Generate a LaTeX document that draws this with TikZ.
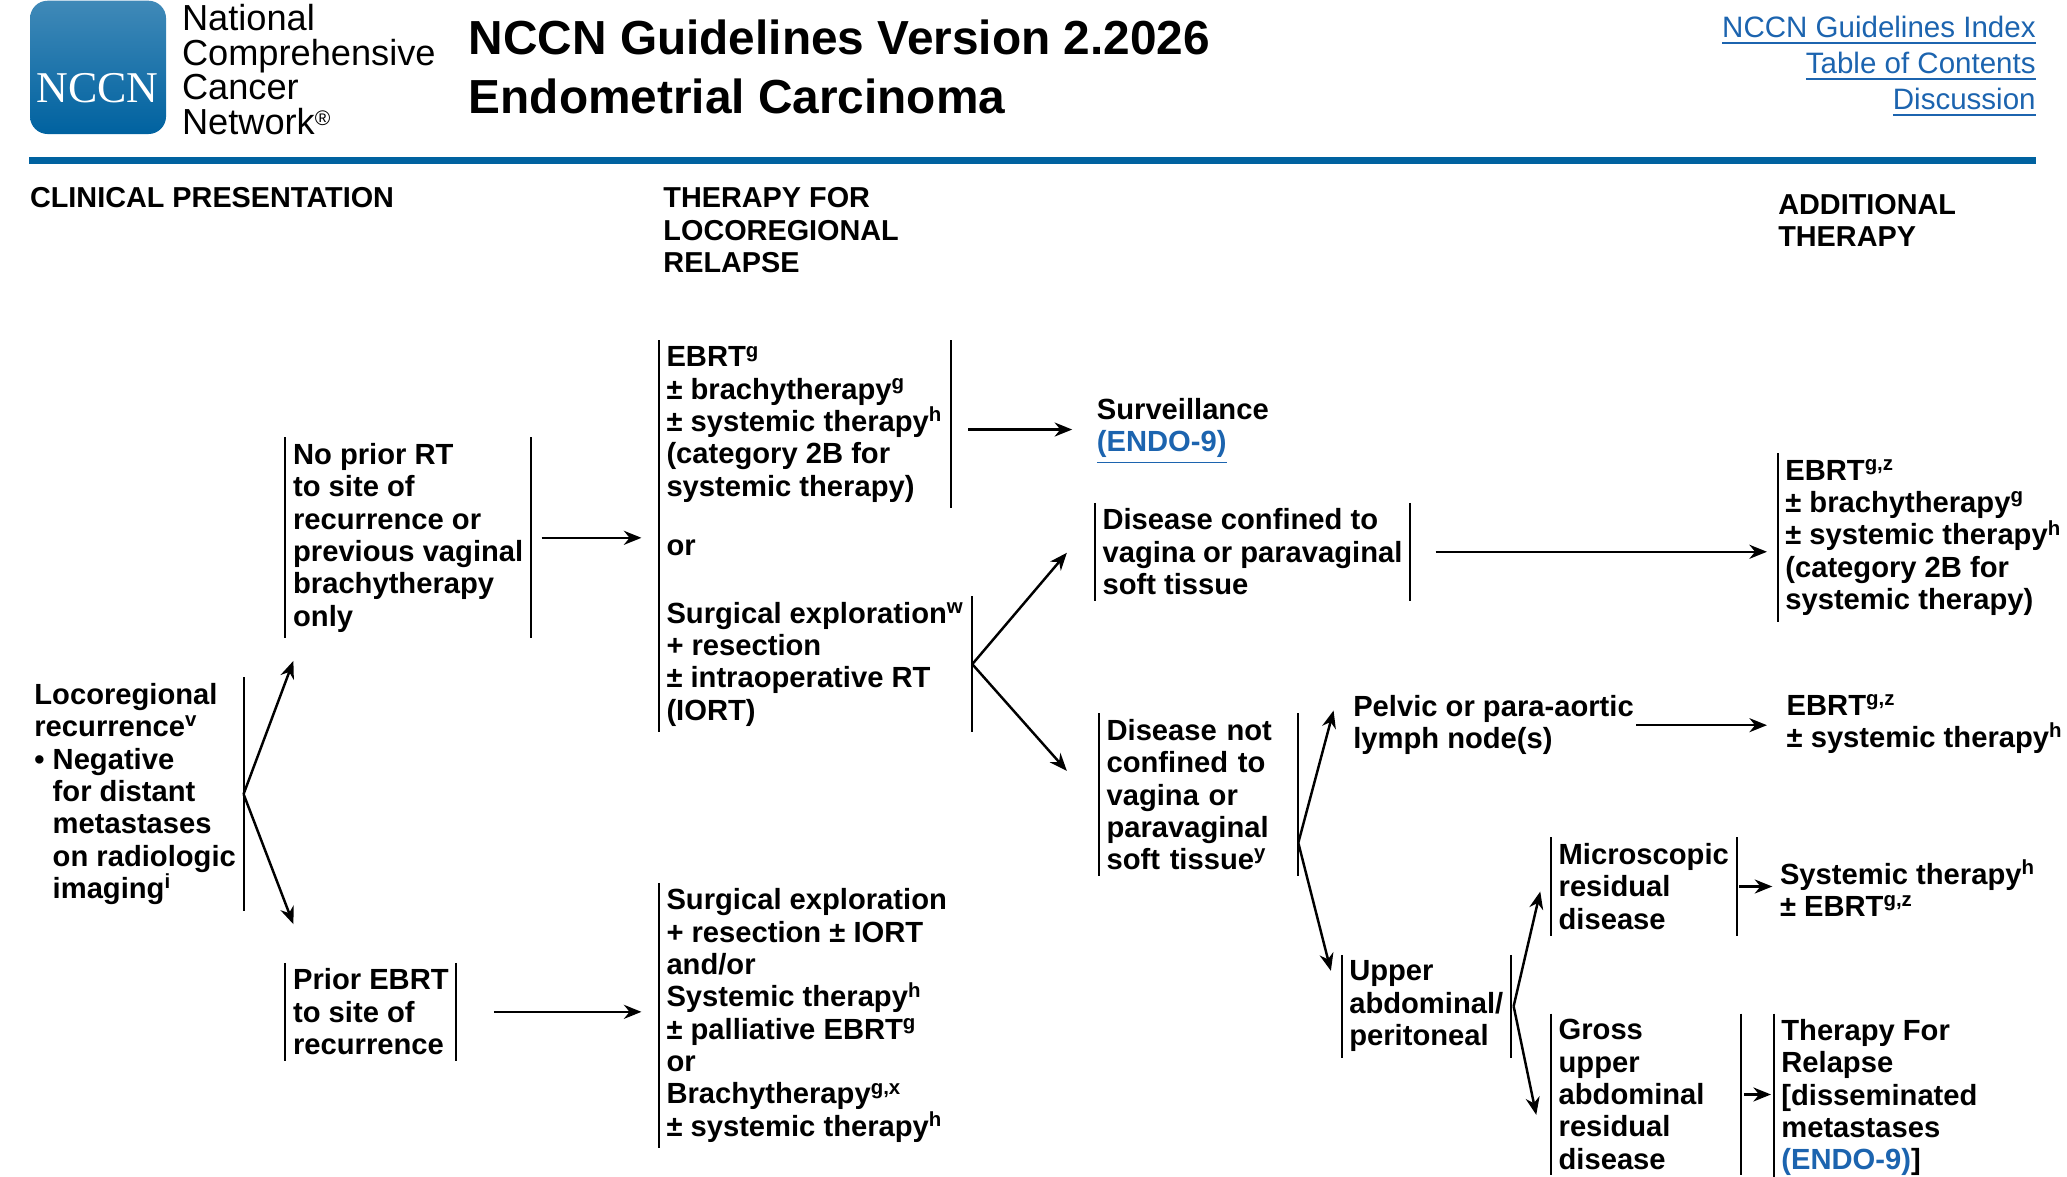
\documentclass[tikz,border=0pt]{standalone}
\usepackage{fontspec}
\setmainfont{Liberation Sans}
\newfontfamily\logofont{Liberation Serif}
\usetikzlibrary{arrows.meta}
\definecolor{nccnblue}{RGB}{0,98,160}
\definecolor{linkblue}{RGB}{28,100,175}
\newcommand{\sps}[1]{\textsuperscript{#1}}
\newcommand{\lnk}[1]{{\color{linkblue}\underline{#1}}}

\begin{document}
\begin{tikzpicture}[x=0.01333cm, y=-0.01333cm,
    body/.style={font=\fontsize{8.3}{9.2}\selectfont\bfseries, align=left, anchor=north west, inner xsep=2pt, inner ysep=1.5pt},
    head/.style={font=\fontsize{8.2}{9.3}\selectfont\bfseries, align=left, anchor=north west, inner sep=0pt},
    link/.style={font=\fontsize{8.4}{10}\selectfont, text=linkblue, anchor=east, inner sep=0pt},
    bar/.style={line width=0.6pt},
    arr/.style={-{Stealth[length=5pt,width=4pt]}, line width=0.7pt}]
    \useasboundingbox (0,0) rectangle (1550,882);

    % header
    \node[draw=none, rounded corners=5pt, top color=nccnblue!75, bottom color=nccnblue, minimum width=1.36cm, minimum height=1.333cm, anchor=north west, inner sep=0pt] (logo) at (22,0) {};
    \node[text=white, font=\logofont\fontsize{12.5}{12}\selectfont] (logotxt) at (73,66) {NCCN};
    \node[font=\fontsize{10.3}{9.8}\selectfont, align=left, anchor=north west, inner sep=0pt] (nccnname) at (136,3) {National\\Comprehensive\\Cancer\\Network{\fontsize{6}{6}\selectfont\raisebox{2.5pt}{\textregistered}}};
    \node[font=\fontsize{13.6}{16}\selectfont\bfseries, anchor=west, inner sep=0pt] (title1) at (351,28) {NCCN Guidelines Version 2.2026};
    \node[font=\fontsize{13.6}{16}\selectfont\bfseries, anchor=west, inner sep=0pt] (title2) at (351,72) {Endometrial Carcinoma};
    \node[link] (idx) at (1527,23) {\underline{NCCN Guidelines Index}};
    \node[link] (toc) at (1527,50) {\underline{Table of Contents}};
    \node[link] (disc) at (1527,77) {\underline{Discussion}};
    \draw[nccnblue, line width=2pt] (22,120) -- (1527,120);

    % column heads
    \node[head] (h1) at (22,140) {CLINICAL PRESENTATION};
    \node[head] (h2) at (497,140) {THERAPY FOR\\LOCOREGIONAL\\RELAPSE};
    \node[head] (h3) at (1333,145) {ADDITIONAL\\THERAPY};

    % presentation
    \node[body] (loco) at (20,508) {Locoregional\\recurrence\sps{v}\\\textbullet~Negative\\\phantom{\textbullet~}for distant\\\phantom{\textbullet~}metastases\\\phantom{\textbullet~}on radiologic\\\phantom{\textbullet~}imaging\sps{i}};
    \draw[bar] (loco.north east) -- (loco.south east);

    \node[body] (noprior) at (214,328) {No prior RT\\to site of\\recurrence or\\previous vaginal\\brachytherapy\\only};
    \draw[bar] (noprior.north west) -- (noprior.south west);
    \draw[bar] (noprior.north east) -- (noprior.south east);

    \node[body] (prior) at (214,722) {Prior EBRT\\to site of\\recurrence};
    \draw[bar] (prior.north west) -- (prior.south west);
    \draw[bar] (prior.north east) -- (prior.south east);

    % therapy for relapse
    \node[body] (ebrt) at (494,255) {EBRT\sps{g}\\± brachytherapy\sps{g}\\± systemic therapy\sps{h}\\(category 2B for\\systemic therapy)};
    \draw[bar] (ebrt.north east) -- (ebrt.south east);
    \node[body] (or) at (494,400) {or};
    \node[body] (surg) at (494,447) {Surgical exploration\sps{w}\\+ resection\\± intraoperative RT\\(IORT)};
    \draw[bar] (surg.north east) -- (surg.south east);
    \draw[bar] (ebrt.north west) -- (surg.south west);

    \node[body] (salvage) at (494,662) {Surgical exploration\\+ resection ± IORT\\and/or\\Systemic therapy\sps{h}\\± palliative EBRT\sps{g}\\or\\Brachytherapy\sps{g,x}\\± systemic therapy\sps{h}};
    \draw[bar] (salvage.north west) -- (salvage.south west);

    % surgical findings
    \node[body, inner xsep=0pt] (surv) at (822,294) {Surveillance\\\lnk{(ENDO-9)}};

    \node[body] (confined) at (821,377) {Disease confined to\\vagina or paravaginal\\soft tissue};
    \draw[bar] (confined.north west) -- (confined.south west);
    \draw[bar] (confined.north east) -- (confined.south east);

    \node[body, text width=1.84cm] (notconf) at (824,535) {Disease not\\confined to\\vagina or\\paravaginal\\soft tissue\sps{y}};
    \draw[bar] (notconf.north west) -- (notconf.south west);
    \draw[bar] (notconf.north east) -- (notconf.south east);

    \node[body] (nodes) at (1009,517) {Pelvic or para-aortic\\lymph node(s)};

    \node[body] (upper) at (1006,716) {Upper\\abdominal/\\peritoneal};
    \draw[bar] (upper.north west) -- (upper.south west);
    \draw[bar] (upper.north east) -- (upper.south east);

    \node[body] (micro) at (1163,628) {Microscopic\\residual\\disease};
    \draw[bar] (micro.north west) -- (micro.south west);
    \draw[bar] (micro.north east) -- (micro.south east);

    \node[body, text width=1.75cm] (gross) at (1163,760) {Gross\\upper\\abdominal\\residual\\disease};
    \draw[bar] (gross.north west) -- (gross.south west);
    \draw[bar] (gross.north east) -- (gross.south east);

    % additional therapy
    \node[body] (add1) at (1333,340) {EBRT\sps{g,z}\\± brachytherapy\sps{g}\\± systemic therapy\sps{h}\\(category 2B for\\systemic therapy)};
    \draw[bar] (add1.north west) -- (add1.south west);
    \node[body] (add2) at (1334,516) {EBRT\sps{g,z}\\± systemic therapy\sps{h}};
    \node[body] (add3) at (1329,640) {Systemic therapy\sps{h}\\± EBRT\sps{g,z}};
    \node[body] (add4) at (1330,760) {Therapy For\\Relapse\\{[}disseminated\\metastases\\\lnk{(ENDO-9)}]};
    \draw[bar] (add4.north west) -- (add4.south west);

    % connectors
    \draw[arr] (loco.east) -- ([shift={(6,17)}]noprior.south west);
    \draw[arr] (loco.east) -- ([shift={(6,-29)}]prior.north west);
    \draw[arr] ([shift={(8,0)}]noprior.east) -- ([shift={(-13,0)}]noprior.east -| ebrt.west);
    \draw[arr] ([shift={(28,0)}]prior.east) -- ([shift={(-13,0)}]prior.east -| salvage.west);
    \draw[arr] ([shift={(13,4)}]ebrt.east) -- ([shift={(-18,4)}]ebrt.east -| surv.west);
    \draw[arr] (surg.east) -- ([shift={(-21,-36)}]confined.south west);
    \draw[arr] (surg.east) -- ([shift={(-24,43)}]notconf.north west);
    \draw[arr] ([shift={(19,0)}]confined.east) -- ([shift={(-8,0)}]confined.east -| add1.west);
    \draw[arr] ([shift={(0,36)}]notconf.east) -- ([shift={(-9,-11)}]nodes.west);
    \draw[arr] ([shift={(0,36)}]notconf.east) -- ([shift={(-8,12)}]upper.north west);
    \draw[arr] ([shift={(-4,0)}]nodes.east) -- ([shift={(-9,0)}]nodes.east -| add2.west);
    \draw[arr] ([shift={(2,0)}]upper.east) -- ([shift={(-8,-33)}]micro.south west);
    \draw[arr] ([shift={(2,0)}]upper.east) -- ([shift={(-11,76)}]gross.north west);
    \draw[arr] ([shift={(2,0)}]micro.east) -- (micro.east -| add3.west);
    \draw[arr] ([shift={(2,0)}]gross.east) -- ([shift={(-2,0)}]gross.east -| add4.west);
\end{tikzpicture}
\end{document}
